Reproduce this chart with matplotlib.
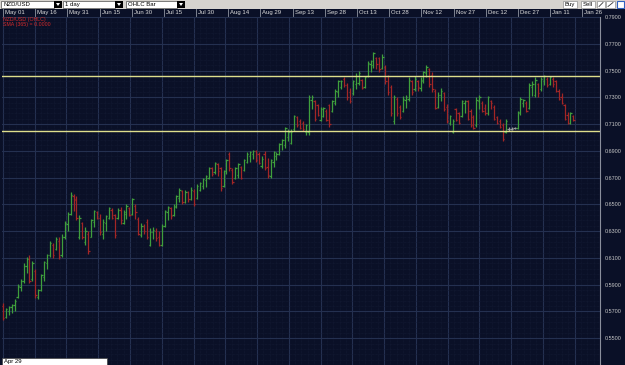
import numpy as np
import matplotlib.pyplot as plt
from matplotlib.patches import Rectangle, Polygon

plt.rcParams['font.family'] = ['Liberation Sans', 'DejaVu Sans']

# NZD/USD daily OHLC bars, prices in pips (x 1e-4)
opens = [5740, 5660, 5700, 5730, 5745, 5810, 5880, 5930, 6040, 6090,
         5940, 6000, 5810, 5860, 5960, 6060, 6120, 6200, 6170, 6230,
         6120, 6260, 6350, 6430, 6560, 6540, 6260, 6360, 6220, 6280,
         6260, 6370, 6440, 6400, 6280, 6360, 6400, 6460, 6420, 6400,
         6460, 6360, 6430, 6470, 6430, 6490, 6390, 6270, 6340, 6370,
         6200, 6290, 6300, 6260, 6200, 6340, 6440, 6470, 6420, 6480,
         6550, 6600, 6520, 6590, 6540, 6600, 6550, 6610, 6640, 6680,
         6700, 6770, 6740, 6800, 6770, 6640, 6750, 6880, 6760, 6700,
         6720, 6780, 6760, 6820, 6860, 6880, 6900, 6880, 6790, 6880,
         6780, 6710, 6820, 6860, 6880, 6950, 6940, 7000, 6960, 7060,
         7150, 7120, 7110, 7040, 7040, 7280, 7270, 7240, 7130, 7160,
         7200, 7240, 7200, 7260, 7340, 7380, 7440, 7390, 7340, 7330,
         7400, 7410, 7430, 7380, 7460, 7550, 7540, 7590, 7590, 7520,
         7530, 7460, 7380, 7120, 7290, 7230, 7200, 7280, 7290, 7420,
         7360, 7420, 7370, 7420, 7480, 7510, 7470, 7350, 7230, 7320,
         7330, 7230, 7110, 7040, 7210, 7180, 7160, 7260, 7270, 7200,
         7150, 7090, 7270, 7260, 7220, 7180, 7270, 7230, 7150, 7120,
         7090, 7040, 7060, 7065, 7070, 7070, 7180, 7260, 7260, 7220,
         7380, 7320, 7400, 7360, 7420, 7440, 7400, 7440, 7420, 7350,
         7300, 7240, 7170, 7110, 7160]
highs = [5760, 5725, 5740, 5755, 5795, 5905, 5945, 6060, 6110, 6120,
         6080, 6020, 5870, 5980, 6080, 6130, 6225, 6210, 6255, 6255,
         6280, 6375, 6440, 6590, 6580, 6560, 6420, 6370, 6330, 6300,
         6390, 6460, 6450, 6430, 6390, 6420, 6480, 6470, 6430, 6470,
         6480, 6460, 6500, 6480, 6550, 6500, 6405, 6360, 6350, 6390,
         6320, 6330, 6320, 6300, 6350, 6460, 6490, 6480, 6500, 6570,
         6625, 6610, 6610, 6600, 6630, 6615, 6650, 6670, 6700, 6720,
         6780, 6780, 6820, 6810, 6780, 6760, 6840, 6890, 6770, 6780,
         6810, 6790, 6840, 6890, 6900, 6910, 6910, 6890, 6860, 6900,
         6850, 6840, 6900, 6890, 6960, 6990, 7080, 7060, 7060, 7170,
         7160, 7135, 7120, 7100, 7320, 7320, 7280, 7250, 7230, 7230,
         7210, 7250, 7280, 7360, 7430, 7430, 7450, 7410, 7370, 7430,
         7480, 7500, 7440, 7460, 7570, 7580, 7640, 7600, 7600, 7620,
         7540, 7470, 7390, 7320, 7300, 7240, 7310, 7320, 7450, 7430,
         7460, 7430, 7450, 7500, 7540, 7520, 7490, 7360, 7340, 7370,
         7340, 7250, 7170, 7140, 7220, 7190, 7280, 7280, 7280, 7210,
         7170, 7300, 7320, 7270, 7250, 7310, 7280, 7240, 7160, 7140,
         7110, 7140, 7080, 7075, 7080, 7200, 7300, 7290, 7270, 7410,
         7420, 7450, 7410, 7450, 7470, 7450, 7460, 7450, 7430, 7360,
         7330, 7250, 7190, 7190, 7170]
lows = [5634, 5650, 5675, 5690, 5705, 5800, 5850, 5910, 5985, 5910,
        5930, 5800, 5790, 5850, 5930, 6020, 6105, 6100, 6160, 6095,
        6110, 6245, 6300, 6420, 6450, 6380, 6240, 6240, 6200, 6130,
        6255, 6330, 6390, 6270, 6245, 6300, 6390, 6390, 6250, 6390,
        6350, 6350, 6390, 6410, 6420, 6390, 6270, 6260, 6280, 6240,
        6190, 6240, 6230, 6190, 6190, 6330, 6380, 6390, 6410, 6470,
        6520, 6500, 6510, 6520, 6530, 6490, 6540, 6600, 6615, 6630,
        6690, 6710, 6730, 6710, 6600, 6630, 6730, 6750, 6650, 6690,
        6700, 6690, 6750, 6810, 6820, 6840, 6820, 6800, 6770, 6760,
        6700, 6700, 6780, 6830, 6870, 6910, 6920, 6970, 6950, 7050,
        7075, 7060, 7050, 7020, 7020, 7210, 7120, 7160, 7120, 7150,
        7120, 7080, 7190, 7240, 7300, 7360, 7380, 7280, 7260, 7320,
        7360, 7390, 7360, 7370, 7450, 7490, 7520, 7510, 7490, 7510,
        7400, 7320, 7160, 7100, 7160, 7140, 7190, 7220, 7270, 7320,
        7350, 7350, 7350, 7410, 7450, 7380, 7340, 7210, 7220, 7270,
        7200, 7110, 7090, 7030, 7120, 7100, 7150, 7180, 7130, 7080,
        7060, 7080, 7210, 7190, 7170, 7170, 7210, 7130, 7100, 7070,
        6970, 7030, 7050, 7055, 7060, 7060, 7170, 7230, 7190, 7210,
        7310, 7300, 7300, 7350, 7390, 7380, 7390, 7380, 7340, 7280,
        7250, 7130, 7100, 7100, 7120]
closes = [5650, 5715, 5730, 5745, 5780, 5890, 5930, 6040, 6090, 5930,
          6060, 5820, 5860, 5970, 6070, 6120, 6210, 6120, 6240, 6110,
          6260, 6360, 6430, 6570, 6530, 6400, 6400, 6260, 6300, 6150,
          6380, 6450, 6400, 6290, 6370, 6410, 6470, 6400, 6270, 6460,
          6380, 6440, 6490, 6420, 6540, 6440, 6280, 6340, 6300, 6260,
          6290, 6310, 6250, 6200, 6340, 6450, 6480, 6410, 6490, 6560,
          6610, 6520, 6590, 6540, 6610, 6500, 6640, 6660, 6690, 6710,
          6770, 6730, 6810, 6750, 6620, 6750, 6830, 6770, 6670, 6770,
          6800, 6700, 6830, 6880, 6890, 6900, 6830, 6810, 6840, 6770,
          6720, 6830, 6890, 6880, 6950, 6980, 7070, 7040, 7040, 7160,
          7090, 7070, 7060, 7090, 7300, 7300, 7140, 7170, 7210, 7220,
          7130, 7100, 7270, 7350, 7420, 7420, 7390, 7300, 7270, 7420,
          7460, 7480, 7370, 7450, 7560, 7570, 7630, 7550, 7510, 7600,
          7420, 7340, 7180, 7300, 7180, 7150, 7290, 7300, 7430, 7340,
          7440, 7380, 7430, 7490, 7530, 7400, 7360, 7220, 7320, 7350,
          7210, 7120, 7160, 7120, 7130, 7110, 7270, 7270, 7140, 7090,
          7070, 7280, 7300, 7200, 7180, 7300, 7260, 7140, 7110, 7080,
          6990, 7120, 7060, 7065, 7070, 7190, 7290, 7280, 7200, 7390,
          7400, 7430, 7330, 7440, 7460, 7390, 7450, 7400, 7350, 7290,
          7260, 7140, 7110, 7180, 7130]

date_labels = ['May 01', 'May 16', 'May 31', 'Jun 15', 'Jun 30', 'Jul 15',
               'Jul 30', 'Aug 14', 'Aug 29', 'Sep 13', 'Sep 28', 'Oct 13',
               'Oct 28', 'Nov 12', 'Nov 27', 'Dec 12', 'Dec 27', 'Jan 11',
               'Jan 26']
price_ticks = [0.55, 0.57, 0.59, 0.61, 0.63, 0.65, 0.67, 0.69, 0.71, 0.73,
               0.75, 0.77, 0.79]
resistance = 0.7462
support = 0.7046

NAVY = '#0a1027'
GREEN = '#3f9f3c'
RED = '#a32626'
DOJI = '#9a9a9a'

o = np.array(opens) / 10000
h = np.array(highs) / 10000
l = np.array(lows) / 10000
c = np.array(closes) / 10000
idx = np.arange(len(o))
cols = np.where(c > o, GREEN, np.where(c < o, RED, DOJI))

W, H = 625, 365
px_per_bar = 2.98
bars_per_label = 10.8

fig = plt.figure(figsize=(W / 100, H / 100), dpi=100, facecolor=NAVY)
ax = fig.add_axes([2 / W, 0, 598 / W, 348 / H], facecolor=NAVY)

xmin = -1 / px_per_bar
ax.set_xlim(xmin, xmin + 598 / px_per_bar)
ax.set_ylim(0.79 - 348 / 1346, 0.79)

# grid
tick_pos = np.arange(len(date_labels)) * bars_per_label
ax.set_xticks(tick_pos)
ax.set_xticks(np.arange(0, tick_pos[-1] + bars_per_label, bars_per_label / 5), minor=True)
ax.set_yticks(price_ticks)
ax.set_yticks(np.arange(0.53, 0.79, 0.004), minor=True)
ax.grid(which='major', color='#243050', lw=0.8)
ax.grid(which='minor', color='#141b34', lw=0.5, ls=(0, (1, 1)))
ax.set_axisbelow(True)
ax.tick_params(axis='x', which='both', length=0, labelbottom=False)
ax.yaxis.tick_right()
ax.tick_params(axis='y', which='both', length=0, pad=3.6,
               labelsize=3.9, labelcolor='#c8c8c8')
ax.set_yticklabels(['%.4f' % p for p in price_ticks])
for s in ['top', 'left', 'bottom']:
    ax.spines[s].set_visible(False)
ax.spines['right'].set_color('#8a8f9c')
ax.spines['right'].set_linewidth(0.8)

# OHLC bars
ax.vlines(idx, l, h, colors=cols, lw=0.9)
ax.hlines(o, idx - 0.45, idx, colors=cols, lw=0.9)
ax.hlines(c, idx, idx + 0.45, colors=cols, lw=0.9)

ax.axhline(resistance, color='#dede8c', lw=1)
ax.axhline(support, color='#dede8c', lw=1)

# window chrome in pixel coordinates
cx = fig.add_axes([0, 0, 1, 1], zorder=5)
cx.set_xlim(0, W)
cx.set_ylim(H, 0)
cx.axis('off')

cx.add_patch(Rectangle((0, 0), W, 9, fc='#d6d3ce', ec='none'))
for x0, w, txt in [(1, 53, 'NZD/USD'), (63, 52, '1 day'), (126, 51, 'OHLC Bar')]:
    cx.add_patch(Rectangle((x0, 0.5), w, 7.5, fc='white', ec='#505050', lw=0.5))
    cx.add_patch(Rectangle((x0 + w, 0.5), 8, 7.5, fc='black', ec='none'))
    cx.add_patch(Polygon([(x0 + w + 2, 3), (x0 + w + 6, 3), (x0 + w + 4, 6)],
                         closed=True, fc='white', ec='none'))
    cx.text(x0 + 2, 4.4, txt, fontsize=4.3, color='black', va='center')
for x0, w, txt in [(563, 14, 'Buy'), (581, 14, 'Sell')]:
    cx.add_patch(Rectangle((x0, 0.5), w, 7.5, fc='white', ec='#909090', lw=0.5))
    cx.text(x0 + w / 2, 4.4, txt, fontsize=4.3, color='black', va='center', ha='center')
cx.add_patch(Rectangle((597, 0.5), 8, 7.5, fc='white', ec='#909090', lw=0.5))
cx.add_patch(Rectangle((606, 0.5), 9, 7.5, fc='white', ec='#909090', lw=0.5))
cx.plot([599, 603], [6.5, 2.5], color='#333333', lw=0.6)
cx.plot([608, 613], [6.5, 2.5], color='#333333', lw=0.6)
cx.add_patch(Rectangle((617, 0.5), 7, 7.5, fc='white', ec='#3060c0', lw=0.8))

# date row
cx.add_patch(Rectangle((0, 9), 600, 7, fc=NAVY, ec='none'))
for k, lab in enumerate(date_labels):
    px = 3 + tick_pos[k] * px_per_bar
    cx.plot([px, px], [9, 16], color='#8f95a2', lw=0.6)
    cx.text(px + 2, 12.6, lab, fontsize=4.3, color='#dcdcdc', va='center')

# legend text
cx.text(3, 19.5, 'NZD/USD (OHLC)', fontsize=3.8, color='#d42a2a', va='center')
cx.text(3, 24.5, 'SMA (365) = 0.0000', fontsize=3.8, color='#d42a2a', va='center')

# start date box
cx.add_patch(Rectangle((2, 357.5), 105, 7.5, fc='white', ec='#404040', lw=0.5))
cx.text(4, 361.3, 'Apr 29', fontsize=4.3, color='black', va='center')

plt.savefig('out.png', dpi=100, facecolor=NAVY)
